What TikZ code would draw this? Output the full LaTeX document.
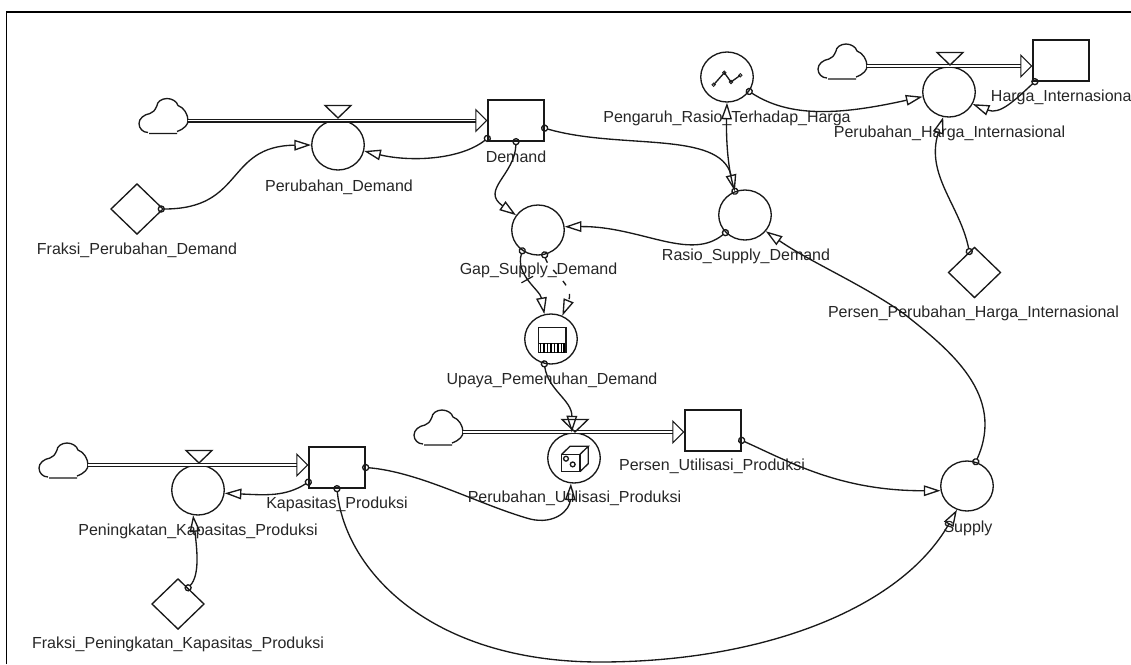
\documentclass[tikz,border=0pt]{standalone}
\usepackage{fontspec}
\setmainfont{Liberation Sans}
\usetikzlibrary{arrows.meta,shapes.geometric}

\tikzset{
	flowline/.style={line width=1pt,color=black!90},
	flowaux/.style={ellipse,draw,flowline,minimum width=39.4pt,minimum height=37.5pt,inner sep=0pt},
	flowstock/.style={rectangle,draw,flowline,minimum width=42pt,minimum height=30.75pt,inner sep=0pt},
	flowconst/.style={diamond,draw,flowline,minimum width=39.4pt,minimum height=38pt,inner sep=0pt},
	flowtext/.style={inner sep=0pt,text=black!85,font=\fontsize{12}{14}\selectfont},
	flowpipe/.style={flowline,line width=0.8pt,double,double distance=1.4pt,-{Triangle[open,length=9pt,width=18pt]}},
	flowlink/.style={flowline,{Circle[open,length=5.5pt,width=5.5pt]}-{Triangle[open,length=12.5pt,width=8pt]},shorten <=-2.75pt},
	hashmark/.style={draw,line width=0.9pt,minimum width=0pt,minimum height=10pt,inner sep=0pt,solid}
}

% cloud, its named point sits where the pipe leaves
\newcommand{\CloudAt}[3]{
	\coordinate (#1) at (#2,#3);
	\draw[flowline,shift={(#2,#3)}] (-39,13) -- (-11,13)
		(-11,11) .. controls (-3,8) and (0,4) .. (0,0) .. controls (0,-6) and (-4,-13) .. (-10,-15)
		.. controls (-11,-19) and (-16,-22) .. (-21,-22) .. controls (-27,-22) and (-31,-18) .. (-31,-15)
		.. controls (-33,-10) and (-35,-8) .. (-38,-7) .. controls (-44,-6) and (-49,-2) .. (-49,3)
		.. controls (-49,8) and (-45,12) .. (-40,12);
}
\newcommand{\ValveAt}[2]{
	\draw[flowline] (#1,#2) -- ++(-13,-12.5) -- ++(26,0) -- cycle;
}

\begin{document}
\begin{tikzpicture}[x=0.75pt,y=-0.75pt]
		\useasboundingbox (0,0) rectangle (1131,664);
		\draw[line width=1.3pt] (6.5,664) -- (6.5,11.7) -- (1131,11.7);

		\node[flowstock] (Demand) at (516,120.5) {};
		\node[flowstock] (Harga) at (1061,60.5) {};
		\node[flowstock] (Utilisasi) at (713,430.5) {};
		\node[flowstock] (Kapasitas) at (337,467.5) {};

		\node[flowaux] (PerDemand) at (338,145) {};
		\node[flowaux] (PerHarga) at (949,92) {};
		\node[flowaux] (Pengaruh) at (727,77) {};
		\node[flowaux] (Rasio) at (745,215) {};
		\node[flowaux] (Gap) at (538,230) {};
		\node[flowaux] (Upaya) at (551,339) {};
		\node[flowaux] (PerUtilisasi) at (574,458) {};
		\node[flowaux] (Peningkatan) at (198,490) {};
		\node[flowaux] (Supply) at (967,486) {};

		\node[flowconst] (FraksiDemand) at (137,209) {};
		\node[flowconst] (PersenHarga) at (974.5,272.5) {};
		\node[flowconst] (FraksiKapasitas) at (178,604) {};

		\node[flowtext] (lPerDemand) at (339,187) {Perubahan\_Demand};
		\node[flowtext] (lFraksiDemand) at (137,250) {Fraksi\_Perubahan\_Demand};
		\node[flowtext] (lDemand) at (516,157) {Demand};
		\node[flowtext] (lGap) at (538.5,270) {Gap\_Supply\_Demand};
		\node[flowtext] (lRasio) at (746,256) {Rasio\_Supply\_Demand};
		\node[flowtext] (lUpaya) at (552,380) {Upaya\_Pemenuhan\_Demand};
		\node[flowtext] (lPengaruh) at (727,118) {Pengaruh\_Rasio\_Terhadap\_Harga};
		\node[flowtext] (lPerHarga) at (949.5,133) {Perubahan\_Harga\_Internasional};
		\node[flowtext] (lHarga) at (1063,97) {Harga\_Internasional};
		\node[flowtext] (lPersenHarga) at (973.5,313) {Persen\_Perubahan\_Harga\_Internasional};
		\node[flowtext] (lUtilisasi) at (712,466) {Persen\_Utilisasi\_Produksi};
		\node[flowtext] (lPerUtilisasi) at (574.5,498) {Perubahan\_Utilisasi\_Produksi};
		\node[flowtext] (lKapasitas) at (337,504) {Kapasitas\_Produksi};
		\node[flowtext] (lPeningkatan) at (198,531) {Peningkatan\_Kapasitas\_Produksi};
		\node[flowtext] (lFraksiKapasitas) at (178,644) {Fraksi\_Peningkatan\_Kapasitas\_Produksi};
		\node[flowtext] (lSupply) at (968,528) {Supply};

		\CloudAt{cDemand}{188}{120.5}
		\CloudAt{cHarga}{867}{66}
		\CloudAt{cUtilisasi}{463}{432}
		\CloudAt{cKapasitas}{88}{465}

		\draw[flowpipe] (cDemand) -- (Demand.west);
		\draw[flowpipe] (cHarga) -- (cHarga -| Harga.west);
		\draw[flowpipe] (cUtilisasi) -- (cUtilisasi -| Utilisasi.west);
		\draw[flowpipe] (cKapasitas) -- (cKapasitas -| Kapasitas.west);

		\ValveAt{338}{118}
		\ValveAt{950}{65}
		\ValveAt{575}{432}
		\ValveAt{199}{463}

		% icons
		\draw[flowline] (Pengaruh.center) ++(-13.3,7.7) -- ++(10.6,-12) -- ++(6.7,9.3) -- ++(9.3,-6.7);
		\foreach \px/\py in {-13.3/7.7,-2.7/-4.3,4/5,13.3/-1.7}
			\draw[flowline,line width=0.6pt] (Pengaruh.center) ++(\px,\py) circle (1.3pt);
		\draw[flowline] (Upaya.center) ++(-12.3,-11.7) rectangle ++(27.3,25.4);
		\draw[flowline] (Upaya.center) ++(-12.3,4.3) -- ++(27.3,0);
		\foreach \px in {-10.5,-7,-3.5,0,3.5,7,10.5,13}
			\draw[line width=1.1pt] (Upaya.center) ++(\px,4.3) -- ++(0,9.4);
		\draw[flowline] (PerUtilisasi.center) ++(-12.3,-3.7) rectangle ++(18.3,17);
		\draw[flowline] (PerUtilisasi.center) ++(-12.3,-3.7) -- ++(8.3,-8) -- ++(18.3,0) -- ++(-8.3,8)
			(PerUtilisasi.center) ++(14.3,-11.7) -- ++(0,17.3) -- ++(-8.3,8);
		\draw[flowline] (PerUtilisasi.center) ++(-8,0.7) circle (1.8pt) ++(6.7,5.7) circle (1.8pt);

		\draw[flowlink] ([xshift=-2pt]FraksiDemand.east) .. controls (245,209) and (225,146) .. (PerDemand.west);
		\draw[flowlink] (Demand.212) .. controls (460,160) and (410,162) .. (PerDemand.-13);
		\draw[flowlink] (Demand.south) .. controls (515,175) and (480,190) .. (Gap.146);
		\draw[flowlink] (Demand.-15) .. controls (620,150) and (720,130) .. (Rasio.113);
		\draw[flowlink] (Rasio.113) .. controls (728,170) and (726,140) .. (Pengaruh.south);
		\draw[flowlink] (Rasio.222) .. controls (690,262) and (640,226) .. (Gap.7);
		\draw[flowlink] (Gap.233) .. controls (515,275) and (540,290) .. node[pos=.45,sloped,hashmark] (Tunda) {} (Upaya.105);
		\draw[flowlink,dash pattern=on 4pt off 7pt] (Gap.-75) .. controls (548,270) and (575,285) .. (Upaya.64);
		\draw[flowlink] (Upaya.255) .. controls (548,390) and (572,400) .. (PerUtilisasi.95);
		\draw[flowlink] (Kapasitas.east) .. controls (420,472) and (480,505) .. (530,519) .. controls (555,525) and (570,510) .. (PerUtilisasi.-97);
		\draw[flowlink] (Kapasitas.207) .. controls (285,497) and (265,495) .. (Peningkatan.-7);
		\draw[flowlink] (FraksiKapasitas.58) .. controls (200,575) and (197,550) .. (Peningkatan.-101);
		\draw[flowlink] (Kapasitas.south) .. controls (345,570) and (430,662) .. (600,662) .. controls (760,662) and (900,610) .. (Supply.-113);
		\draw[flowlink] (Utilisasi.-19) .. controls (790,462) and (840,491) .. (Supply.190);
		\draw[flowlink] (Supply.70) .. controls (1006,395) and (950,350) .. (903,313) .. controls (860,283) and (810,262) .. (Rasio.-38);
		\draw[flowlink] (Harga.219) .. controls (1015,100) and (1000,115) .. (PerHarga.-27);
		\draw[flowlink] (Pengaruh.-33) .. controls (790,118) and (840,115) .. (PerHarga.190);
		\draw[flowlink] (PersenHarga.104) .. controls (960,205) and (925,175) .. (PerHarga.-103);
\end{tikzpicture}
\end{document}
